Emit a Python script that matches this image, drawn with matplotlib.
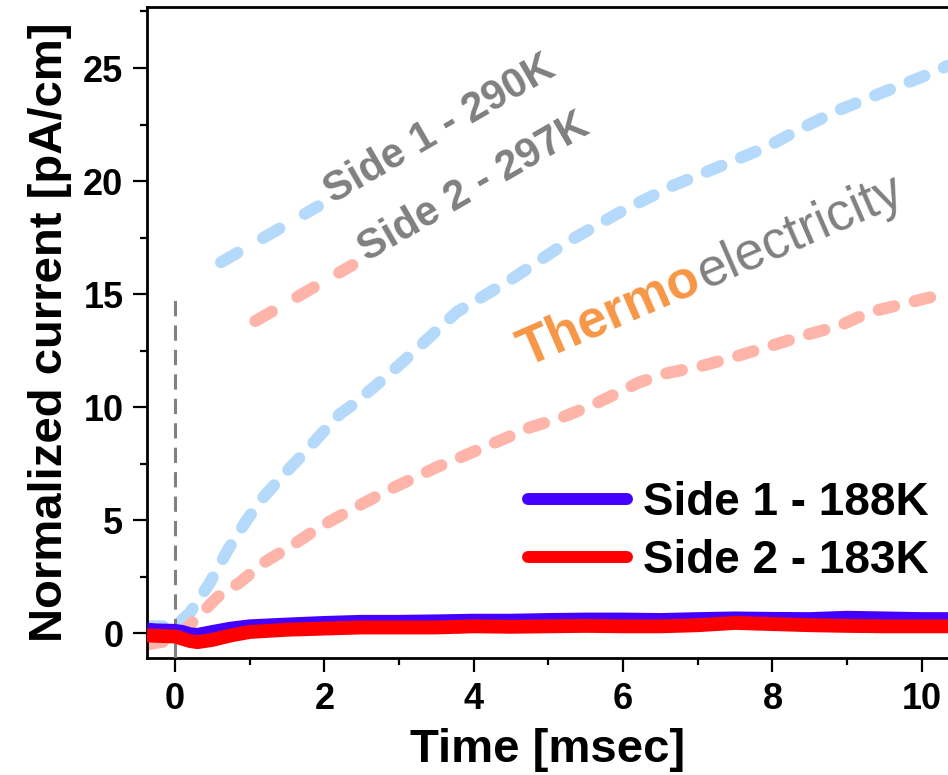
import numpy as np
import matplotlib
matplotlib.use("Agg")
import matplotlib.pyplot as plt
from matplotlib.font_manager import FontProperties
from matplotlib.transforms import offset_copy
from matplotlib.ticker import MultipleLocator

plt.rcParams["font.family"] = ["Liberation Sans", "DejaVu Sans"]

# --- data ---------------------------------------------------------------------
# low-temperature traces (solid, nearly flat)
t_low = [-0.375, -0.25, 0.0, 0.1, 0.2, 0.3, 0.5, 0.75, 1.0, 1.5, 2.0, 2.5, 3.0,
         3.5, 4.0, 4.5, 5.0, 5.5, 6.0, 6.5, 7.0, 7.5, 8.0, 8.5, 9.0, 9.5, 10.0, 10.35]
side1_188k = [0.15, 0.12, 0.1, 0.05, -0.05, -0.08, 0.05, 0.2, 0.3, 0.38, 0.45, 0.5,
              0.5, 0.52, 0.55, 0.55, 0.58, 0.6, 0.6, 0.58, 0.62, 0.65, 0.63, 0.62,
              0.68, 0.65, 0.62, 0.62]
side2_183k = [-0.1, -0.12, -0.15, -0.25, -0.35, -0.4, -0.3, -0.1, 0.05, 0.15, 0.2,
              0.25, 0.25, 0.25, 0.3, 0.28, 0.3, 0.32, 0.3, 0.3, 0.35, 0.45, 0.4,
              0.35, 0.32, 0.3, 0.3, 0.3]

# room-temperature traces (dashed, thermoelectric rise)
t_side1_290k = [-0.375, 0.0, 0.2, 0.47, 0.71, 0.96, 1.18, 1.45, 1.71, 1.97, 2.21,
                2.38, 2.74, 3.05, 3.77, 4.48, 5.25, 6.0, 6.67, 7.26, 7.92, 8.37,
                8.86, 9.46, 10.07, 10.35]
side1_290k = [0.3, 0.3, 0.9, 2.25, 3.7, 5.0, 6.0, 7.0, 7.9, 8.85, 9.7, 10.1, 11.1,
              12.0, 14.2, 15.6, 17.3, 18.7, 19.8, 20.6, 21.5, 22.3, 23.1, 23.9,
              24.7, 25.1]
t_side2_297k = [-0.375, 0.0, 0.27, 0.57, 0.87, 1.18, 1.58, 1.94, 2.44, 2.84, 3.19,
                3.51, 3.84, 4.12, 4.48, 4.75, 5.15, 5.6, 6.22, 6.59, 7.03, 7.47,
                7.97, 8.46, 8.9, 9.3, 9.8, 10.35]
side2_297k = [-0.5, -0.3, 0.6, 1.6, 2.25, 3.1, 3.9, 4.7, 5.6, 6.3, 6.85, 7.35, 7.8,
              8.2, 8.7, 9.1, 9.5, 10.1, 11.1, 11.5, 11.8, 12.2, 12.7, 13.2, 13.6,
              14.2, 14.6, 15.05]

legend_labels = ["Side 1 - 188K", "Side 2 - 183K"]
hot_labels = ["Side 1 - 290K", "Side 2 - 297K"]
hot_label_pos = [(2.11, 19.0), (2.57, 16.4)]
trigger_top = 14.8

# --- style ---------------------------------------------------------------------
BLUE = "#4400ff"
RED = "#ff0000"
LIGHT_BLUE = "#b4d9fa"
SALMON = "#ffb4aa"
GRAY = "#808080"
ORANGE = "#f79646"
XLIM = (-0.375, 10.35)
YLIM = (-1.1, 27.7)

fig = plt.figure(figsize=(9.48, 7.75), dpi=100)
ax = fig.add_axes([0.1551, 0.151, 0.8449, 0.840])
ax.set_xlim(*XLIM)
ax.set_ylim(*YLIM)

dash_lw = 8.6
ax.plot(t_side1_290k, side1_290k, color=LIGHT_BLUE, lw=dash_lw,
        ls=(0, (1.35, 1.75)), dash_capstyle="round", zorder=2)
ax.plot(t_side2_297k, side2_297k, color=SALMON, lw=dash_lw,
        ls=(0, (1.35, 1.75)), dash_capstyle="round", zorder=2)

ax.vlines(0, YLIM[0], trigger_top, colors=GRAY, lw=2.2, linestyles=(0, (5, 3)),
          zorder=3)

l1, = ax.plot(t_low, side1_188k, color=BLUE, lw=10, solid_capstyle="butt", zorder=4)
l2, = ax.plot(t_low, side2_183k, color=RED, lw=10, solid_capstyle="butt", zorder=5)

# rotated labels with short dashed samples in front of them
angle = 30
rad = np.deg2rad(angle)
along = np.array([np.cos(rad), np.sin(rad)])
perp = np.array([-np.sin(rad), np.cos(rad)])
for (x, y), lab, col in zip(hot_label_pos, hot_labels, [LIGHT_BLUE, SALMON]):
    ax.text(x, y, lab, rotation=angle, rotation_mode="anchor", ha="left",
            va="baseline", fontsize=30, fontweight="bold", color=GRAY, zorder=6)
    anchor = ax.transData.transform((x, y))
    end = anchor - 14 * along + 5 * perp
    start = end - 112 * along
    pts = ax.transData.inverted().transform(np.vstack([start, end]))
    ax.plot(pts[:, 0], pts[:, 1], color=col, lw=dash_lw, ls=(0, (1.6, 2.45)),
            dash_capstyle="round", zorder=2)

# "Thermo" (bold orange) + "electricity" (regular gray) on one baseline
th_angle = 23.5
th_x, th_y = 4.70, 11.8
th_size = 38
bold = FontProperties(family=["Liberation Sans"], weight="bold", size=th_size)
ax.text(th_x, th_y, "Thermo", fontproperties=bold, color=ORANGE,
        rotation=th_angle, rotation_mode="anchor", ha="left", va="baseline", zorder=6)
renderer = fig.canvas.get_renderer()
w_px, _, _ = renderer.get_text_width_height_descent("Thermo", bold, ismath=False)
w_pt = w_px * 72 / fig.dpi + 1.5
tr = np.deg2rad(th_angle)
trans = offset_copy(ax.transData, fig=fig, x=w_pt * np.cos(tr), y=w_pt * np.sin(tr),
                    units="points")
ax.text(th_x, th_y, "electricity", transform=trans, fontsize=th_size, color=GRAY,
        rotation=th_angle, rotation_mode="anchor", ha="left", va="baseline", zorder=6)

# axes cosmetics
for side in ["left", "bottom", "top"]:
    ax.spines[side].set_linewidth(2.0)
ax.spines["right"].set_visible(False)
ax.xaxis.set_major_locator(MultipleLocator(2))
ax.xaxis.set_minor_locator(MultipleLocator(1))
ax.yaxis.set_major_locator(MultipleLocator(5))
ax.yaxis.set_minor_locator(MultipleLocator(2.5))
ax.tick_params(which="both", direction="out", width=1.6, top=False, right=False)
ax.tick_params(which="major", length=10, labelsize=26, pad=7)
ax.tick_params(which="minor", length=5)
for lab in ax.get_xticklabels() + ax.get_yticklabels():
    lab.set_fontweight("bold")

ax.set_xlabel("Time [msec]", fontsize=34, fontweight="bold", labelpad=8)
ax.set_ylabel("Normalized current [pA/cm]", fontsize=34, fontweight="bold", labelpad=8)

leg = ax.legend([l1, l2], legend_labels, loc="center left",
                bbox_to_anchor=(0.476, 0.1935), frameon=False, borderpad=0,
                borderaxespad=0, handlelength=2.16, handletextpad=0.35,
                labelspacing=0.3, prop={"weight": "bold", "size": 33})
for h in leg.legend_handles:
    h.set_linewidth(8.6)
    h.set_solid_capstyle("round")

fig.savefig("out.png", dpi=100)
